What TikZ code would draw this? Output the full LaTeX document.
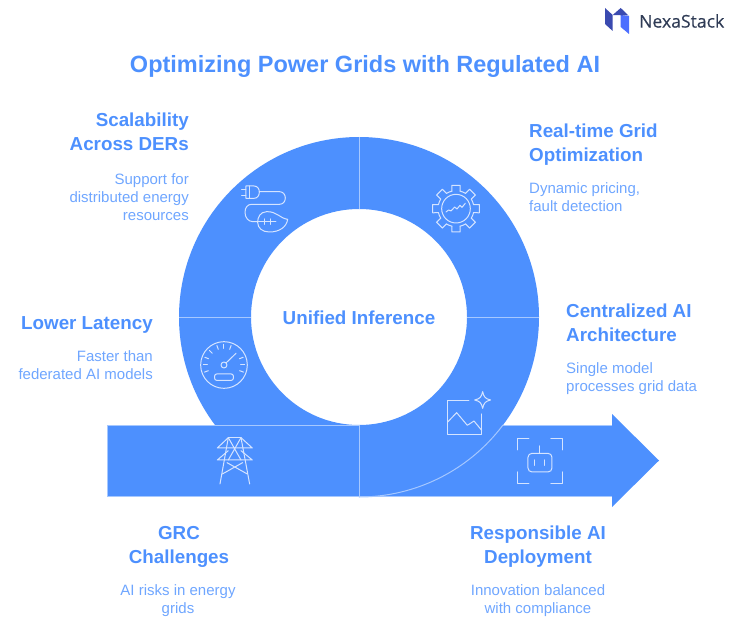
\documentclass[tikz,border=0pt]{standalone}
\usepackage{fontspec}
\setmainfont{Liberation Sans}
\newfontfamily\logofont[FakeBold=0.25]{Open Sans}
\definecolor{fillblue}{HTML}{4D90FE}
\definecolor{headblue}{HTML}{4D90FE}
\definecolor{bodyblue}{HTML}{6FA6FF}
\definecolor{linelight}{HTML}{A6C8FF}
\definecolor{iconlight}{HTML}{D5E4FF}
\definecolor{logodark}{HTML}{3A4AB0}
\definecolor{logolight}{HTML}{4D6FFF}
\definecolor{logotext}{HTML}{2F3B55}
\tikzset{
  headtext/.style={inner sep=0pt,text=headblue,font=\bfseries\fontsize{18.8}{24}\selectfont},
  bodytext/.style={inner sep=0pt,text=bodyblue,font=\fontsize{15}{18}\selectfont},
  sepline/.style={draw=linelight,line width=1pt},
  iconline/.style={draw=iconlight,line width=1pt,line cap=round,line join=round},
  zoomed/.style={x=.3333pt,y=-.3333pt}
}
\begin{document}
\begin{tikzpicture}[x=1pt,y=1pt]
\useasboundingbox (0,0) rectangle (741,-631);
% ring
\fill[fillblue,even odd rule] (359,-317) circle[radius=180] (359,-317) circle[radius=108];
% arrow and bar
\fill[fillblue] (107,-425) -- (612,-425) -- (612,-414) -- (659,-460.5) -- (612,-507) -- (612,-496) -- (107,-496) -- cycle;
\draw[sepline] (612,-425) -- (503,-425);
\draw[sepline] (359,-425) -- (107,-425) -- (107,-496) -- (612,-496);
\draw[sepline] (503,-425) arc[start angle=-36.87,end angle=-90,radius=180];
\draw[sepline] (359,-137) -- (359,-209);
\draw[sepline] (179,-317) -- (251,-317);
\draw[sepline] (467,-317) -- (539,-317);
\draw[sepline] (359,-425) -- (359,-496);
% plug and leaf icon
\begin{scope}[shift={(180,-130)},zoomed,iconline]
 \draw (198,168) -- (222,168) .. controls (232,168) and (238,176) .. (238,186) .. controls (238,197) and (232,205) .. (222,205) -- (198,205) -- cycle;
 \draw (210,168) -- (210,205);
 \draw (185,178) -- (198,178) (185,197) -- (198,197);
 \draw (238,185) -- (298,185) .. controls (309,185) and (316,193) .. (316,204) .. controls (316,215) and (309,223) .. (298,223) -- (214,223) .. controls (203,223) and (195,233) .. (195,247) .. controls (195,263) and (205,275) .. (219,275) -- (234,275);
 \draw (323,268) .. controls (300,265) and (290,244) .. (260,245) .. controls (240,246) and (233,262) .. (233,277) .. controls (233,295) and (248,306) .. (268,306) .. controls (300,306) and (320,290) .. (323,268) -- cycle;
 \draw (234,275) -- (288,275) (255,267) -- (255,283) (271,267) -- (271,283);
\end{scope}
% gear icon
\begin{scope}[shift={(360,-130)},zoomed,iconline]
 \begin{scope}[shift={(288,236)}]
  \draw (0,0) circle[radius=43];
  \foreach \a in {0,45,...,315}{
    \draw (\a-13:54) -- (\a-10:71) -- (\a+10:71) -- (\a+13:54);
    \draw (\a+13:54) arc[start angle=\a+13,delta angle=19,radius=54];
  }
 \end{scope}
 \draw (258,246) -- (266,240) -- (273,243) -- (284,231) -- (291,237) -- (300,226) -- (306,232) -- (316,220);
\end{scope}
% gauge icon
\begin{scope}[shift={(100,-320)},zoomed,iconline]
 \draw (372,135) circle[radius=70];
 \draw (372,135) circle[radius=9];
 \draw (378,129) -- (408,100);
 \foreach \a in {-20,0,22,70,90,110,135,158,180,200}{
   \draw (-\a:50) ++(372,135) -- ++(-\a:12);
 }
 \draw[rounded corners=2pt] (344,162) rectangle (400,181);
\end{scope}
% tower icon
\begin{scope}[shift={(100,-320)},zoomed,iconline]
 \draw (385,353) -- (423,353);
 \draw (385,353) -- (352,384) -- (457,384) -- (423,353);
 \draw (385,392) -- (352,420) -- (457,420) -- (423,392);
 \draw (385,353) -- (360,492) (423,353) -- (449,492);
 \draw (385,353) -- (423,420) (423,353) -- (385,420);
 \draw (381,428) -- (442,462) (428,428) -- (367,462);
\end{scope}
% image icon
\begin{scope}[shift={(350,-320)},zoomed,iconline]
 \draw (357,242) -- (293,242) -- (293,343) -- (395,343) -- (395,282);
 \draw (293,306) -- (320,278) -- (352,316) -- (372,303) -- (395,331);
 \draw (398,215) .. controls (402,232) and (406,236) .. (422,240) .. controls (406,244) and (402,248) .. (398,265) .. controls (394,248) and (390,244) .. (374,240) .. controls (390,236) and (394,232) .. (398,215) -- cycle;
\end{scope}
% bot icon
\begin{scope}[shift={(350,-320)},zoomed,iconline]
 \draw (537,356) -- (503,356) -- (503,390) (603,356) -- (638,356) -- (638,390);
 \draw (503,456) -- (503,490) -- (537,490) (638,456) -- (638,490) -- (603,490);
 \draw[rounded corners=4pt] (534,400) rectangle (606,456);
 \draw (570,378) -- (570,400) (555,420) -- (555,436) (584,420) -- (584,436);
\end{scope}
% logo
\fill[logodark] (605,-8) -- (612.7,-15) -- (612.7,-31) -- (605,-24) -- cycle;
\fill[logolight] (620.7,-15) -- (629,-16) -- (629,-34) -- (620.7,-27) -- cycle;
\fill[logodark] (612.7,-15) -- (620.7,-8) -- (628.5,-15.5) -- cycle;
\node[inner sep=0pt,anchor=west,text=logotext,font=\logofont\fontsize{17.6}{20}\selectfont] (logo) at (639,-21) {NexaStack};
% text
\node[inner sep=0pt,text=headblue,font=\bfseries\fontsize{23.5}{28}\selectfont] (title) at (365,-66) {Optimizing Power Grids with Regulated AI};
\node[headtext] (centre) at (359,-318) {Unified Inference};
\node[headtext,anchor=north east,align=right] (h1) at (189,-113) {Scalability\\Across DERs};
\node[bodytext,anchor=north east,align=right] (b1) at (189,-173.5) {Support for\\distributed energy\\resources};
\node[headtext,anchor=north west,align=left] (h2) at (529,-124) {Real-time Grid\\Optimization};
\node[bodytext,anchor=north west,align=left] (b2) at (529,-182.5) {Dynamic pricing,\\fault detection};
\node[headtext,anchor=north east,align=right] (h3) at (153,-316) {Lower Latency};
\node[bodytext,anchor=north east,align=right] (b3) at (153,-350.5) {Faster than\\federated AI models};
\node[headtext,anchor=north west,align=left] (h4) at (566,-304) {Centralized AI\\Architecture};
\node[bodytext,anchor=north west,align=left] (b4) at (566,-362.5) {Single model\\processes grid data};
\node[headtext,anchor=north,align=center] (h5) at (179,-526) {GRC\\Challenges};
\node[bodytext,anchor=north,align=center] (b5) at (178,-584.5) {AI risks in energy\\grids};
\node[headtext,anchor=north,align=center] (h6) at (538,-526) {Responsible AI\\Deployment};
\node[bodytext,anchor=north,align=center] (b6) at (538,-584.5) {Innovation balanced\\with compliance};
\end{tikzpicture}
\end{document}
